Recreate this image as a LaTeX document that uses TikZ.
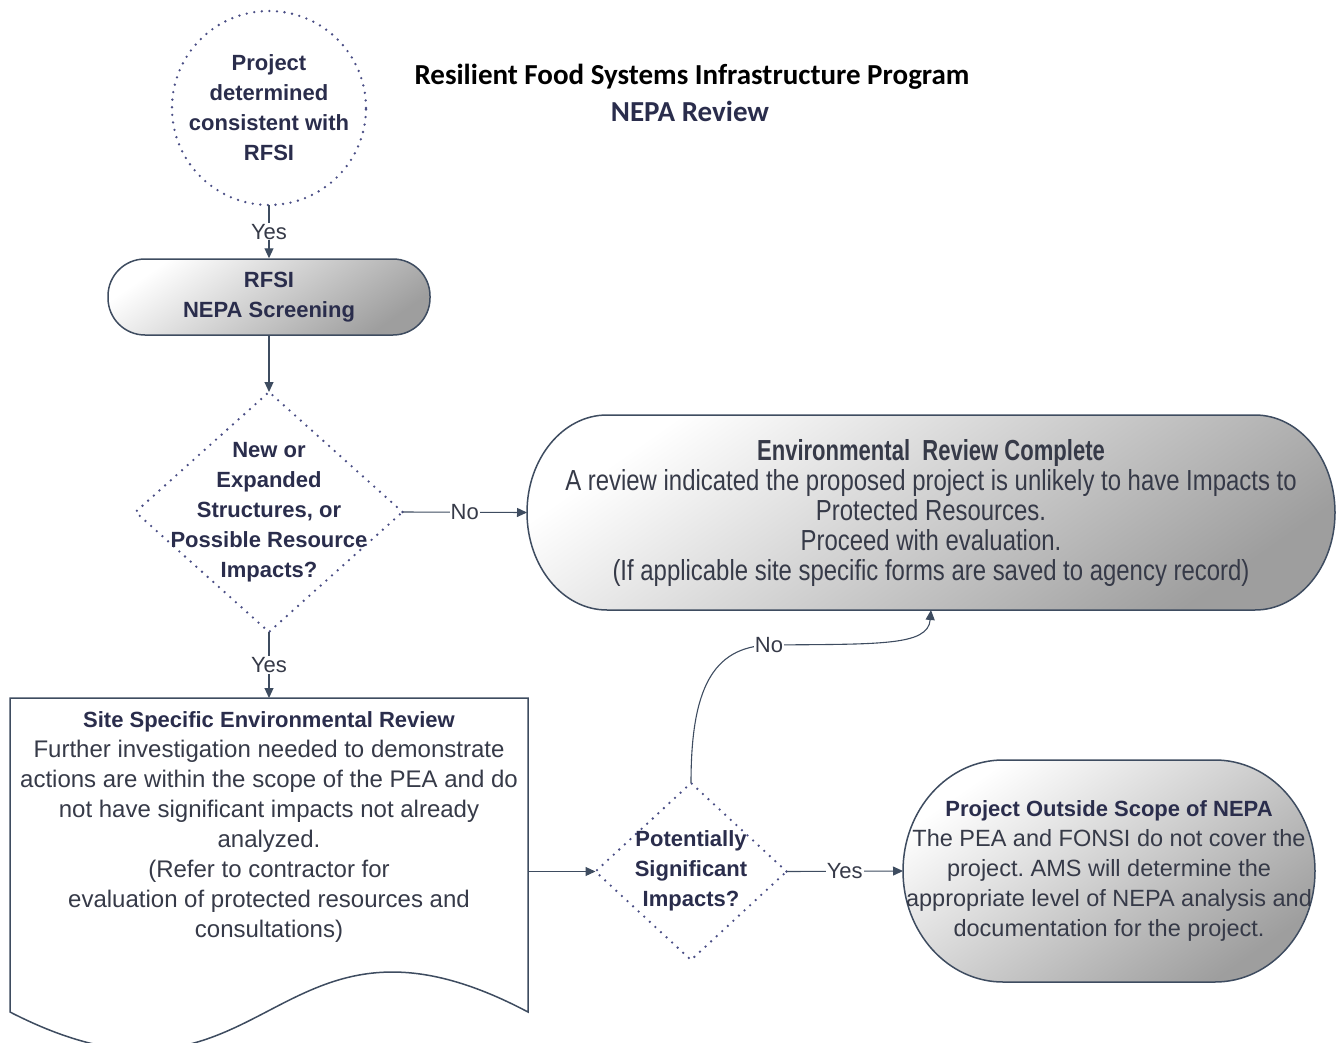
\documentclass[tikz,border=0pt]{standalone}
\usepackage{fontspec}
\setmainfont{Liberation Sans}
\newfontfamily\titlefont{Carlito}
\newfontfamily\condfont[FakeStretch=0.76]{Liberation Sans}
\newfontfamily\condbody[FakeStretch=0.825]{Liberation Sans}
\usetikzlibrary{shapes.geometric,arrows.meta}
\definecolor{navy}{HTML}{2A2D4C}
\definecolor{txt}{HTML}{363A48}
\definecolor{edge}{HTML}{3E4C60}
\definecolor{dotc}{HTML}{4A4E85}
\definecolor{shadeg}{HTML}{9E9E9E}
\newcommand\hd[1]{{\bfseries\color{navy}#1}}
\frenchspacing
\begin{document}
\begin{tikzpicture}[x=1pt,y=-1pt,
  conn/.style={draw=edge, line width=1.1pt, -{Triangle[length=10pt,width=9pt]}},
  lbl/.style={fill=white, inner sep=1pt, text=txt, font=\fontsize{22}{26}\selectfont},
  dotline/.style={draw=dotc, line width=2.6pt, dash pattern=on 0pt off 7.6pt, line cap=round},
  shaded/.style={draw=edge, line width=1.5pt, top color=white, bottom color=shadeg, shading angle=35},
  body/.style={align=center, text=txt, inner sep=0pt, font=\fontsize{24}{30}\selectfont},
  bold22/.style={align=center, text=navy, inner sep=0pt, font=\bfseries\fontsize{22}{30}\selectfont},
  empty/.style={inner sep=0pt, outer sep=0pt}
]
\useasboundingbox (0,0) rectangle (1340,1043);

% title
\node[font=\titlefont\bfseries\fontsize{29}{30}\selectfont, text=black] (t1) at (692,77) {Resilient Food Systems Infrastructure Program};
\node[font=\titlefont\bfseries\fontsize{29}{30}\selectfont, text=navy] (t2) at (690,111) {NEPA Review};

% start circle
\node[circle, dotline, empty, minimum size=194pt] (start) at (269,108) {};
\node[bold22] (starttxt) at (269,108) {Project\\determined\\consistent with\\RFSI};

% screening
\node[shaded, rounded corners=37pt, minimum width=322pt, minimum height=76pt, bold22] (screen) at (269,297) {RFSI\\NEPA Screening};

% decision 1
\node[diamond, dotline, empty, minimum width=267pt, minimum height=240pt] (d1) at (269,512) {};
\node[bold22] (d1txt) at (269,512) {New or\\Expanded\\Structures, or\\Possible Resource\\Impacts?};

% pill 1: review complete
\path[shaded] (607,415) -- (1255,415) arc[start angle=90,end angle=-90,x radius=80pt,y radius=97.5pt]
  -- (607,610) arc[start angle=270,end angle=90,x radius=80pt,y radius=97.5pt] -- cycle;
\node[empty, minimum width=808pt, minimum height=195pt, align=center, text=txt,
      font=\condbody\fontsize{29}{30}\selectfont] (p1) at (931,512.5)
  {{\condfont\bfseries Environmental\ \ Review Complete}\\A review indicated the proposed project is unlikely to have Impacts to\\Protected Resources.\\Proceed with evaluation.\\(If applicable site specific forms are saved to agency record)};

% document
\path[draw=edge, line width=1.5pt, fill=white] (10,698) -- (528,698) -- (528,1012)
  .. controls (269,875) and (269,1145) .. (10,1012) -- cycle;
\node[empty, minimum width=518pt, minimum height=314pt] (doc) at (269,855) {};
\node[body] (doctxt) at (269,827.5) {\hd{\fontsize{22}{30}\selectfont Site Specific Environmental Review}\\Further investigation needed to demonstrate\\actions are within the scope of the PEA and do\\not have significant impacts not already\\analyzed.\\(Refer to contractor for\\evaluation of protected resources and\\consultations)};

% decision 2
\node[diamond, dotline, empty, minimum width=191pt, minimum height=177pt] (d2) at (691,871.5) {};
\node[bold22] (d2txt) at (691,871) {Potentially\\Significant\\Impacts?};

% pill 2: outside scope
\path[shaded] (1003,760) -- (1215,760) arc[start angle=90,end angle=-90,x radius=100pt,y radius=111pt]
  -- (1003,982) arc[start angle=270,end angle=90,x radius=100pt,y radius=111pt] -- cycle;
\node[empty, minimum width=412pt, minimum height=222pt, align=center, text=txt,
      font=\fontsize{23.5}{30}\selectfont] (p2) at (1109,871)
  {\hd{\fontsize{22}{30}\selectfont Project Outside Scope of NEPA}\\The PEA and FONSI do not cover the\\project. AMS will determine the\\appropriate level of NEPA analysis and\\documentation for the project.};

% connectors
\draw[conn] (start.south) -- node[lbl] (l1) {Yes} (screen.north);
\draw[conn] (screen.south) -- (d1.north);
\draw[conn] (d1.east) -- node[lbl] (l2) {No} (p1.west);
\draw[conn] (d1.south) -- node[lbl] (l3) {Yes} (doc.north);
\draw[conn] (doc.east |- d2.west) -- (d2.west);
\draw[conn] (d2.east) -- node[lbl] (l4) {Yes} (p2.west);
\draw[conn] (d2.north) .. controls (691,690) and (712,647) .. (769,645) node[lbl] (l5) {No}
  .. controls (880,644) and (928,646) .. (p1.south);
\end{tikzpicture}
\end{document}
